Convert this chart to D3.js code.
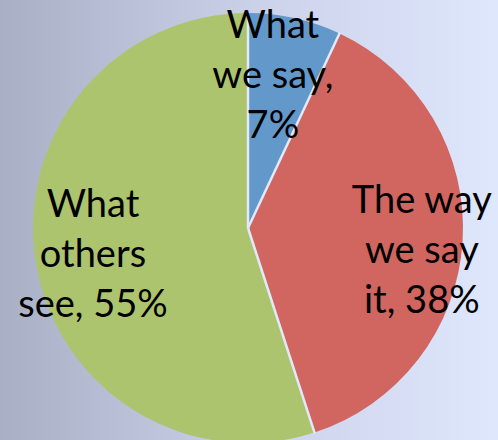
<!DOCTYPE html>
<html>
<head>
<meta charset="utf-8">
<script src="https://cdn.jsdelivr.net/npm/d3@7"></script>
<style>
  html, body { margin: 0; padding: 0; overflow: hidden; }
  svg { display: block; }
</style>
</head>
<body>
<div id="chart"></div>
<script>
// data
var labels = [["What", "we say,", "7%"], ["The way", "we say", "it, 38%"], ["What", "others", "see, 55%"]];
var values = [7, 38, 55];
var colors = ["#6398cb", "#d0665f", "#adc46e"];

var w = 498, h = 440;
var cx = 248, cy = 228, r = 215;

var svg = d3.select("#chart").append("svg")
    .attr("width", w)
    .attr("height", h);

var grad = svg.append("defs").append("linearGradient")
    .attr("id", "bg")
    .attr("x1", "0%").attr("x2", "100%")
    .attr("y1", "0%").attr("y2", "0%");
grad.append("stop").attr("offset", "0%").attr("stop-color", "#a9b0c6");
grad.append("stop").attr("offset", "55%").attr("stop-color", "#ccd3ea");
grad.append("stop").attr("offset", "100%").attr("stop-color", "#dfe7fd");

svg.append("rect")
    .attr("width", w).attr("height", h)
    .attr("fill", "url(#bg)");

var pie = d3.pie().sort(null).value(function(d) { return d; });
var arcs = pie(values);

var arc = d3.arc().innerRadius(0).outerRadius(r);

var g = svg.append("g").attr("transform", "translate(" + cx + "," + cy + ")");

g.selectAll("path")
    .data(arcs)
    .enter()
    .append("path")
    .attr("d", arc)
    .attr("fill", function(d, i) { return colors[i]; });

// thin light gaps between slices only (no rim on the outside)
g.selectAll("line.sep")
    .data(arcs)
    .enter()
    .append("line")
    .attr("class", "sep")
    .attr("x1", 0).attr("y1", 0)
    .attr("x2", function(d) { return Math.sin(d.startAngle) * (r + 1); })
    .attr("y2", function(d) { return -Math.cos(d.startAngle) * (r + 1); })
    .attr("stroke", "#e2e9fb")
    .attr("stroke-width", 2.5);

// label radius per slice + nudge, to sit where the original put them
var labelRadius = [0.53, 0.81, 0.73];
var nudges = [[0, -42], [0, 11], [0, 1]];

var lineH = 50;
var txt = g.selectAll("text.lbl")
    .data(arcs)
    .enter()
    .append("text")
    .attr("class", "lbl")
    .attr("text-anchor", "middle")
    .attr("font-family", "Lato, 'Open Sans', sans-serif")
    .attr("font-size", 38)
    .attr("fill", "#000")
    .attr("transform", function(d, i) {
        var a = (d.startAngle + d.endAngle) / 2;
        var lr = r * labelRadius[i];
        var x = Math.sin(a) * lr + nudges[i][0];
        var y = -Math.cos(a) * lr + nudges[i][1];
        return "translate(" + x + "," + y + ")";
    });

txt.each(function(d, i) {
    var t = d3.select(this);
    labels[i].forEach(function(line, k) {
        t.append("tspan")
            .attr("x", 0)
            .attr("y", (k - 1) * lineH + 13)
            .text(line);
    });
});
</script>
</body>
</html>
